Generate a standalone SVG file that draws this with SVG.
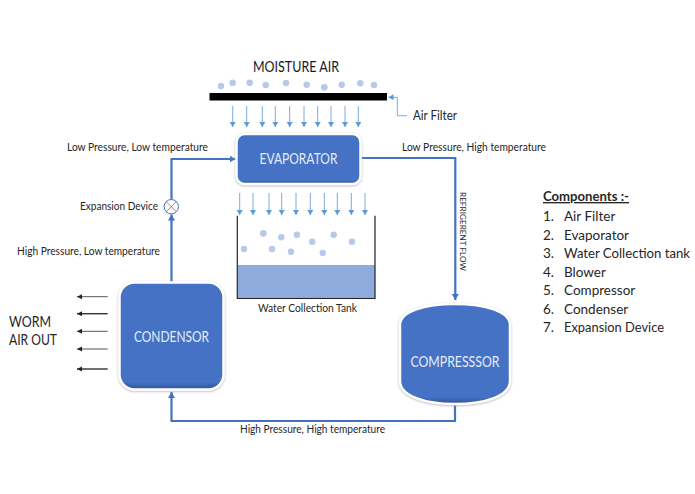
<svg xmlns="http://www.w3.org/2000/svg" width="695" height="494" viewBox="0 0 695 494">
<style>
text{font-family:"Lato","Carlito","Open Sans",sans-serif;fill:#262626}
.s{font-size:10.5px}
.n{fill:url(#bl);stroke:#fff;stroke-width:2.5;filter:url(#sh)}
.nt{fill:#e4ecf8;font-size:15px;text-anchor:middle}
.c{fill:none;stroke:#4472c4;stroke-width:2.2}
.d{stroke:#7fa8dc;stroke-width:1;marker-end:url(#ad)}
.k{stroke:#555;stroke-width:1;marker-end:url(#ak)}
.k2{stroke:#333;stroke-width:1.4;marker-end:url(#ak)}
.o{fill:#b8c8e8}
.l{font-size:13.5px}
</style>
<defs>
<linearGradient id="bl" x1="0" y1="0" x2="0" y2="1"><stop offset="0.93" stop-color="#4472c4"/><stop offset="1" stop-color="#2f5597"/></linearGradient>
<filter id="sh" x="-10%" y="-10%" width="120%" height="120%"><feDropShadow dx="0" dy="0.8" stdDeviation="1.2" flood-color="#999" flood-opacity="0.7"/></filter>
<marker id="ab" markerUnits="userSpaceOnUse" markerWidth="8" markerHeight="8" refX="6" refY="3.5" orient="auto"><path d="M0 0L6 3.5L0 7Z" fill="#4472c4"/></marker>
<marker id="ad" markerUnits="userSpaceOnUse" markerWidth="7" markerHeight="7" refX="5" refY="3" orient="auto"><path d="M0 0L5 3L0 6Z" fill="#5b9bd5"/></marker>
<marker id="ak" markerUnits="userSpaceOnUse" markerWidth="7" markerHeight="7" refX="5" refY="2.5" orient="auto"><path d="M0 0L5 2.5L0 5Z" fill="#222"/></marker>
</defs>
<rect width="695" height="494" fill="#fff"/>

<g id="connectors">
<path class="c" d="M362 158H455.3V300" marker-end="url(#ab)"/>
<path class="c" d="M455 404V421H171.5V392" marker-end="url(#ab)"/>
<path class="c" d="M171.5 282V214.5" marker-end="url(#ab)"/>
<path class="c" d="M171.5 199.5V159H235.5" marker-end="url(#ab)"/>
<path d="M407 115.7H397.3V97.3H388.5" fill="none" stroke="#7fa8dc" stroke-width="1" marker-end="url(#ad)"/>
<g id="air-in">
<path class="d" d="M232.7 106V127"/><path class="d" d="M246.7 106V127"/><path class="d" d="M262.3 106V127"/><path class="d" d="M275.3 106V127"/><path class="d" d="M289.7 106V127"/><path class="d" d="M304 106V127"/><path class="d" d="M317.7 106V127"/><path class="d" d="M331 106V127"/><path class="d" d="M345 106V127"/><path class="d" d="M358.3 106V127"/>
</g>
<g id="air-tank">
<path class="d" d="M239.7 193V215"/><path class="d" d="M253 193V215"/><path class="d" d="M269 193V215"/><path class="d" d="M281.7 193V215"/><path class="d" d="M296 193V215"/><path class="d" d="M310.3 193V215"/><path class="d" d="M324.3 193V215"/><path class="d" d="M337.3 193V215"/><path class="d" d="M351.3 193V215"/><path class="d" d="M365 193V215"/>
</g>
<g id="air-out">
<path class="k" d="M107.7 296.7H77"/><path class="k2" d="M107.7 313.7H77"/><path class="k" d="M107.7 331.3H77"/><path class="k" d="M107.7 349H77"/><path class="k2" d="M107.7 369H77"/>
</g>
</g>

<g id="moisture-air">
<text x="296" y="72" font-size="15" text-anchor="middle" textLength="86" lengthAdjust="spacingAndGlyphs" style="fill:#1a1a1a">MOISTURE AIR</text>
<circle class="o" cx="221" cy="86" r="3.2"/><circle class="o" cx="232.7" cy="82.7" r="3.2"/><circle class="o" cx="249.7" cy="82.7" r="3.2"/><circle class="o" cx="265.7" cy="85" r="3.2"/><circle class="o" cx="286" cy="83" r="3.2"/><circle class="o" cx="306.7" cy="84.7" r="3.2"/><circle class="o" cx="324.3" cy="87.3" r="3.4"/><circle class="o" cx="341.7" cy="84.7" r="3.2"/><circle class="o" cx="360.3" cy="83.3" r="3.2"/><circle class="o" cx="374" cy="85" r="3.2"/>
</g>

<g id="air-filter">
<rect x="209.5" y="93" width="177.5" height="7.5" fill="#000"/>
<text x="413" y="120" font-size="13" textLength="44" lengthAdjust="spacingAndGlyphs">Air Filter</text>
</g>

<g id="evaporator">
<rect class="n" x="236.5" y="134" width="124" height="50" rx="8"/>
<text class="nt" x="298.5" y="164" textLength="78" lengthAdjust="spacingAndGlyphs">EVAPORATOR</text>
</g>

<g id="expansion-device">
<circle cx="171.3" cy="206.7" r="7.2" fill="#fff" stroke="#4472c4" stroke-width="1"/>
<path d="M166.2 201.6L176.4 211.8M176.4 201.6L166.2 211.8" stroke="#777" stroke-width="0.8"/>
<text class="s" x="80" y="210" textLength="78" lengthAdjust="spacingAndGlyphs">Expansion Device</text>
</g>

<g id="tank">
<rect x="238" y="265" width="137" height="32.5" fill="#8faadc"/>
<path d="M237.3 215.7V298.3H375V215.7" fill="none" stroke="#222" stroke-width="1.2"/>
<circle class="o" cx="244" cy="249" r="3.2"/><circle class="o" cx="263.3" cy="233.3" r="3.4"/><circle class="o" cx="281.3" cy="237.3" r="3.2"/><circle class="o" cx="297" cy="234.7" r="3.2"/><circle class="o" cx="272" cy="249" r="3.2"/><circle class="o" cx="291" cy="251.7" r="3.2"/><circle class="o" cx="312.3" cy="241.7" r="3.2"/><circle class="o" cx="322.7" cy="253" r="3.2"/><circle class="o" cx="333.7" cy="234.7" r="3.2"/><circle class="o" cx="352" cy="241.7" r="3.2"/>
<text class="s" x="258" y="312" textLength="99" lengthAdjust="spacingAndGlyphs">Water Collection Tank</text>
</g>

<g id="condensor">
<rect class="n" x="119.5" y="282.5" width="104" height="107" rx="15"/>
<text class="nt" x="171.5" y="342" textLength="75" lengthAdjust="spacingAndGlyphs">CONDENSOR</text>
</g>

<g id="compressor">
<path class="n" d="M400 325C400 311 425 304 455 304C485 304 510 311 510 325V381C510 396 485 404 455 404C425 404 400 396 400 381Z"/>
<text class="nt" x="455" y="367" textLength="89" lengthAdjust="spacingAndGlyphs">COMPRESSSOR</text>
</g>

<g id="labels">
<text class="s" x="67" y="151" textLength="141" lengthAdjust="spacingAndGlyphs">Low Pressure, Low temperature</text>
<text class="s" x="402" y="151" textLength="144" lengthAdjust="spacingAndGlyphs">Low Pressure, High temperature</text>
<text class="s" x="17" y="255" textLength="143" lengthAdjust="spacingAndGlyphs">High Pressure, Low temperature</text>
<text class="s" x="240" y="433" textLength="145" lengthAdjust="spacingAndGlyphs">High Pressure, High temperature</text>
<text transform="translate(460 192) rotate(90)" font-size="8" textLength="79" lengthAdjust="spacingAndGlyphs">REFRIGERENT FLOW</text>
<text x="9" y="327" font-size="15" textLength="42" lengthAdjust="spacingAndGlyphs">WORM</text>
<text x="9" y="345" font-size="15" textLength="48" lengthAdjust="spacingAndGlyphs">AIR OUT</text>
</g>

<g id="components">
<text class="l" x="543" y="201" font-weight="700" text-decoration="underline" textLength="86" lengthAdjust="spacingAndGlyphs">Components :-</text>
<text class="l" x="543" y="221">1.</text><text class="l" x="564" y="221">Air Filter</text>
<text class="l" x="543" y="240">2.</text><text class="l" x="564" y="240">Evaporator</text>
<text class="l" x="543" y="258">3.</text><text class="l" x="564" y="258" textLength="126" lengthAdjust="spacingAndGlyphs">Water Collection tank</text>
<text class="l" x="543" y="277">4.</text><text class="l" x="564" y="277">Blower</text>
<text class="l" x="543" y="295">5.</text><text class="l" x="564" y="295">Compressor</text>
<text class="l" x="543" y="314">6.</text><text class="l" x="564" y="314">Condenser</text>
<text class="l" x="543" y="332">7.</text><text class="l" x="564" y="332" textLength="100" lengthAdjust="spacingAndGlyphs">Expansion Device</text>
</g>
</svg>
